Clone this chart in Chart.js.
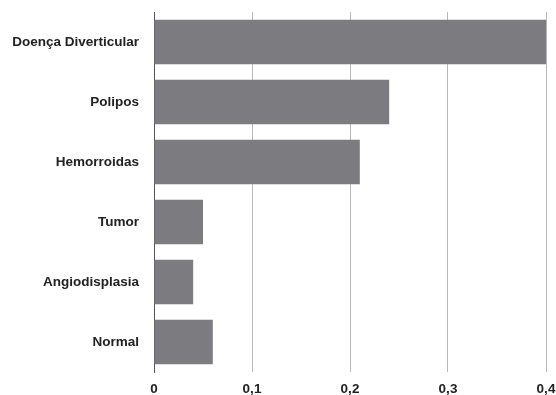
<!DOCTYPE html>
<html lang="pt">
<head>
  <meta charset="UTF-8"/>
  <title>Achados</title>
  <script src="https://cdn.jsdelivr.net/npm/chart.js"></script>
  <style>
    body { margin:0; padding:0; background:#fff; }
    .wrap { width:556px; height:395px; position:relative; }
  </style>
</head>
<body>
<div class="wrap"><canvas id="barChart"></canvas></div>
<script>
  // data
  const categories = ['Doença Diverticular','Polipos','Hemorroidas','Tumor','Angiodisplasia','Normal'];
  const values = [0.40, 0.24, 0.21, 0.05, 0.04, 0.06];
  const tickLabels = ['0','0,1','0,2','0,3','0,4'];

  const font = { family:"'Liberation Sans', Arial, sans-serif", size:13.5, weight:'bold' };

  new Chart(document.getElementById('barChart'), {
    type:'bar',
    data:{
      labels:categories,
      datasets:[{ data:values, backgroundColor:'#7c7c80', borderWidth:0,
                  barPercentage:0.74, categoryPercentage:1 }]
    },
    options:{
      indexAxis:'y',
      responsive:true, maintainAspectRatio:false, animation:false,
      layout:{ padding:{ top:12, right:10, left:0, bottom:0 } },
      plugins:{ legend:{display:false}, tooltip:{enabled:false} },
      scales:{
        x:{
          min:0, max:0.4,
          grid:{ color:'#b8b8b8', lineWidth:1, drawTicks:false },
          border:{ display:false },
          ticks:{ stepSize:0.1, padding:9, color:'#222', font:font,
                  callback:(v,i)=>tickLabels[i] },
          afterFit:s=>{ s.height = 23; s.paddingLeft = 0; s.paddingRight = 0; }
        },
        y:{
          grid:{ display:false, drawTicks:false },
          border:{ display:true, color:'#555', width:1 },
          ticks:{ padding:15, color:'#222', font:font },
          afterFit:s=>{ s.width = 154; s.paddingTop = 0; s.paddingBottom = 0; }
        }
      }
    }
  });
</script>
</body>
</html>
